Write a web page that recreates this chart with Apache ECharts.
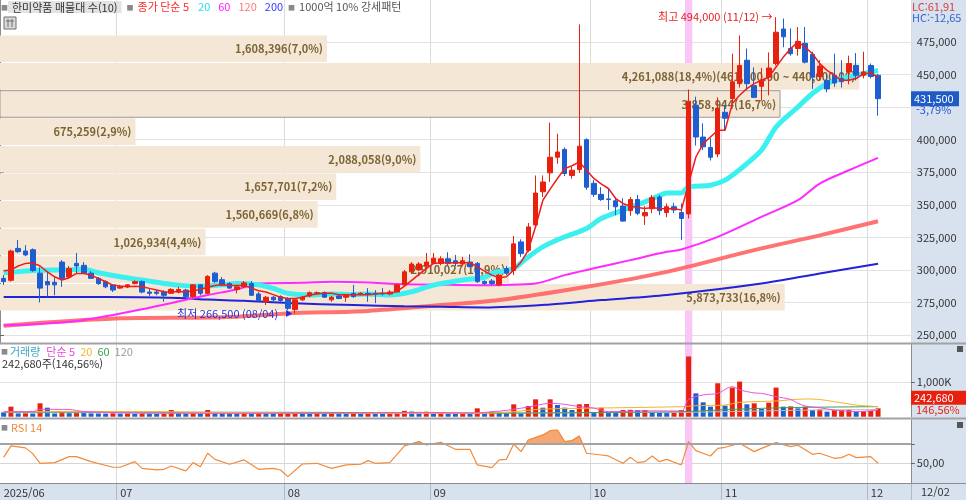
<!DOCTYPE html>
<html lang="ko">
<head>
<meta charset="utf-8">
<title>한미약품</title>
<script src="https://cdn.jsdelivr.net/npm/echarts@6.0.0/dist/echarts.min.js"></script>
<style>
html,body{margin:0;padding:0;background:#fff;overflow:hidden;}
#chart{width:966px;height:500px;}
</style>
</head>
<body>
<div id="chart"></div>
<script>
// ================= DATA =================
const dates = [
'06/09','06/10','06/11','06/12','06/13','06/16','06/17','06/18','06/19','06/20','06/23','06/24','06/25','06/26','06/27','06/30',
'07/01','07/02','07/03','07/04','07/07','07/08','07/09','07/10','07/11','07/14','07/15','07/16','07/17','07/18','07/21','07/22','07/23','07/24','07/25','07/28','07/29','07/30','07/31',
'08/01','08/04','08/05','08/06','08/07','08/08','08/11','08/12','08/13','08/14','08/18','08/19','08/20','08/21','08/22','08/25','08/26','08/27','08/28','08/29',
'09/01','09/02','09/03','09/04','09/05','09/08','09/09','09/10','09/11','09/12','09/15','09/16','09/17','09/18','09/19','09/22','09/23','09/24','09/25','09/26','09/29','09/30',
'10/01','10/02','10/10','10/13','10/14','10/15','10/16','10/17','10/20','10/21','10/22','10/23','10/24','10/27','10/28','10/29','10/30','10/31',
'11/03','11/04','11/05','11/06','11/07','11/10','11/11','11/12','11/13','11/14','11/17','11/18','11/19','11/20','11/21','11/24','11/25','11/26','11/27','11/28',
'12/01','12/02'];
const emptySlots = ['+1','+2','+3','+4'];
const monthStartIdx = [0,16,39,59,81,99,119];
const monthLabels = ['2025/06','07','08','09','10','11','12'];

// [open, close, low, high]
const ohlc = [
[293500,291000,288500,296000],[292000,314500,291000,315500],[316500,314000,313000,323000],[314500,311500,310500,319000],[315500,299500,298500,316500],
[297500,286000,275000,302000],[291000,288500,279500,298500],[290500,288500,280500,294500],[306000,293500,287000,307500],[294500,301000,293500,303000],
[305000,303000,297500,313000],[303500,297500,297000,306000],[297500,293500,293000,299000],[293500,289500,288500,294500],[291000,287000,286000,292000],
[288500,284500,283000,289000],[286000,287000,285500,288500],[287000,288500,286000,289000],[289500,291000,289000,292000],[291000,283000,282000,292000],
[283000,282000,280000,285500],[283000,282000,280500,284500],[283000,280500,275500,284500],[282000,285000,281500,286000],[283000,285000,282000,287000],
[284500,279500,278500,285500],[279500,288500,278500,289000],[288500,282000,280500,289000],[282000,295000,281500,296000],[297500,291000,290000,298500],
[292500,288500,287500,294500],[289500,286000,285500,290500],[285000,287000,282000,288500],[287000,290000,286000,291500],[289500,280500,280000,291500],
[281500,276500,275500,283000],[275500,279000,273000,280000],[279000,277000,276000,280000],[279500,276500,275500,280500],[278000,270500,269000,279000],
[269500,277000,266500,278500],[277000,279000,276000,280000],[280000,282500,279000,283500],[282000,282500,281500,283500],[282500,279000,278500,283500],
[277000,279000,275500,280000],[280000,278000,277500,280500],[279000,280500,275500,281500],[282000,279500,278500,288500],[281500,282000,280500,283000],
[282000,281500,275500,286000],[282000,281500,274500,284500],[282000,281500,280500,286000],[281500,283000,280500,284500],[283000,288500,283000,289000],
[288500,298500,287500,300000],[298500,304500,297500,306000],[300000,304500,299000,306000],[303000,306000,301500,313000],[305000,309000,304500,313000],
[305000,308500,303500,310500],[308500,305000,303500,313500],[307000,305000,303000,311500],[304500,307000,303000,310000],[306000,302500,302000,312000],
[305000,291000,290000,306000],[291000,289500,288500,292000],[291500,289500,288500,293000],[288500,296000,287500,297000],[301000,297500,296000,303000],
[299500,320000,296000,326000],[321500,312500,310000,323500],[315000,333000,313500,336000],[334500,359000,332500,372500],[360000,367500,356000,372500],
[374500,386500,367500,413000],[386500,390500,381500,404500],[392500,374000,372000,394000],[372500,376500,370000,379000],[377000,395000,374500,488500],
[400000,363500,361500,401000],[366500,358000,356000,369000],[358000,354000,353000,363500],[354500,354000,346000,362500],[353000,348500,342000,355500],
[349000,337500,337000,355000],[345500,354000,341500,356000],[354000,343500,342000,357500],[341500,344000,334500,349000],[347000,355500,343500,357500],
[356000,345500,342000,357500],[344000,348500,340500,351000],[348500,346000,343500,351500],[344000,339500,323000,351000],[343000,429500,339500,438500],
[426500,402000,395500,433000],[402000,394500,392000,412500],[394000,386500,384000,401000],[389000,424000,386500,432500],[421000,416500,407000,426500],
[431500,444500,428500,466000],[443000,457000,440000,480000],[461000,443000,438000,470000],[441500,432500,432000,455500],[441000,445500,430000,455000],
[448000,455000,434000,467000],[458500,482500,457000,494000],[485000,479000,471000,493000],[470000,466000,464500,485500],[470000,475500,464500,486500],
[474000,459500,458500,486500],[465500,448000,439000,467500],[448500,456500,445500,461000],[445500,439000,436500,450500],[449500,443500,440500,466000],
[447000,444500,440000,461000],[452000,458500,442500,464500],[457000,449500,445500,466500],[449500,452000,447000,467500],[457000,448500,447000,458500],
[449500,431500,418500,450500]];

const volume = [
126000,292000,95000,100000,92000,389000,262000,95000,140000,105000,
120000,110000,98000,95000,90000,100000,90000,95000,85000,95000,
88000,80000,85000,194000,100000,95000,105000,90000,194000,110000,
100000,95000,90000,96000,92000,100000,85000,80000,88000,92000,
98000,90000,85000,95000,88000,92000,85000,80000,130000,95000,
100000,90000,85000,92000,110000,170000,150000,140000,145000,100000,
130000,95000,90000,100000,90000,243000,97000,150000,140000,97000,
360000,97000,311000,505000,262000,505000,340000,262000,194000,360000,
370000,117000,262000,117000,110000,194000,200000,190000,195000,117000,
110000,105000,115000,194000,1750000,680000,418000,292000,972000,321000,
846000,1021000,360000,389000,224000,408000,846000,292000,300000,243000,
292000,194000,214000,146000,194000,196000,198000,150000,160000,165580,
242680];

// price moving averages
const ma5 = [
299300,300000,303000,305000,305400,303000,298500,294700,292200,294000,
297300,297300,296000,293500,290900,288300,287600,287000,287500,287000,
285800,284500,283200,283000,283500,283000,284000,285000,286600,288000,
288500,288000,288000,288000,286000,284000,283000,281000,279000,278000,
278000,279000,280700,281500,282000,282000,281000,281000,281000,281000,
281000,281500,282000,282000,283500,287500,292000,296500,301000,305000,
305500,305500,305500,305500,305500,302400,299000,296000,294000,294700,
299800,306000,315200,333100,353500,362000,370200,377800,380000,382900,
376500,370200,366000,362500,354800,351000,348900,348000,347200,347900,
347200,347000,347200,345900,366300,386700,397000,402100,407200,407200,
427700,434100,439200,443000,445600,448100,455800,463400,469900,475000,
471100,466000,458400,453200,449400,445600,445600,446900,450700,451200,
448000];
const ma20 = [[0,297800],[5,299800],[8,300000],[11,300400],[13,297800],[16,294700],[19,292200],[22,289600],[24,288300],[27,287600],[30,288500],[32,289600],[35,288500],[37,285800],[39,282000],[42,280700],[45,281500],[48,281000],[50,281500],[53,280700],[56,283200],[59,288300],[63,292200],[66,294300],[67,297300],[70,301200],[72,310000],[74,317700],[77,325400],[80,331800],[82,339500],[85,345900],[88,352200],[90,357000],[91,359100],[93,359100],[94,363700],[97,365000],[99,368900],[101,377000],[104,391900],[106,409700],[109,425100],[111,435400],[113,443000],[115,446900],[118,450700],[120,453200]];
const ma60 = [[0,257500],[5,258500],[11,261500],[20,271000],[28,280700],[32,285000],[35,289600],[41,290100],[45,290900],[50,290300],[54,289100],[59,288800],[65,288300],[73,289600],[77,296000],[81,301200],[86,307500],[91,313900],[93,315700],[98,325400],[104,340700],[109,353500],[112,366300],[116,376500],[120,386000]];
const ma120 = [[0,257100],[16,262800],[30,263600],[39,266600],[50,268500],[60,273000],[68,276800],[80,287000],[91,298500],[103,315200],[112,326500],[120,337400]];
const ma200 = [[0,279200],[14,279200],[24,278400],[28,277200],[33,276300],[39,274500],[48,273000],[55,272000],[60,271700],[66,271200],[75,273500],[82,276800],[91,280700],[104,289500],[112,297300],[120,304800]];

// volume moving averages (shares)
const vma5 = [[0,145000],[4,150000],[5,214000],[9,210000],[11,150000],[20,100000],[40,95000],[58,120000],[64,110000],[68,160000],[72,280000],[75,389000],[77,360000],[79,292000],[81,250000],[83,146000],[88,170000],[93,165000],[94,500000],[96,632000],[98,680000],[100,875000],[101,780000],[103,690000],[104,680000],[106,583000],[108,500000],[109,389000],[110,311000],[112,260000],[114,194000],[117,146000],[120,194000]];
const vma20 = [[0,150000],[21,148000],[26,130000],[35,115000],[44,100000],[60,97000],[66,100000],[70,150000],[74,220000],[79,243000],[85,262000],[93,292000],[95,321000],[99,340000],[101,418000],[106,457000],[110,515000],[112,500000],[114,437000],[117,340000],[120,292000]];
const vma60 = [[0,135000],[44,126000],[50,115000],[60,105000],[66,100000],[80,120000],[93,146000],[98,194000],[104,243000],[110,272000],[120,292000]];
const vma120 = [[0,118000],[66,108000],[93,128000],[100,150000],[110,190000],[120,210000]];

// RSI 14
const rsi = [[0,56.2],[1,68],[3,66],[4,60],[5,50],[7,50.7],[9,56.9],[10,56.9],[12,51.7],[15,45.9],[16,45.9],[18,51.7],[19,44.8],[21,43.1],[22,43.8],[23,47.2],[25,42.1],[26,50.7],[27,46.5],[28,60.4],[29,54.1],[31,49],[33,53.5],[35,43.8],[37,44.8],[38,43.1],[39,36.2],[41,49.3],[43,50],[45,44.8],[47,48.3],[49,49],[50,52.8],[51,50],[53,50.7],[55,68],[57,72.5],[58,69],[60,71.8],[62,64.5],[64,64.5],[65,48.3],[67,45.5],[68,53.5],[69,54.1],[70,70],[71,62.1],[72,74.2],[74,79.4],[75,83.8],[76,84.5],[77,72.5],[78,73.5],[79,78.3],[80,60.4],[82,58.6],[83,57.6],[85,50],[86,56.2],[87,50.7],[88,51.7],[89,57.6],[90,51.7],[91,54.1],[93,48.3],[94,72.5],[95,63.1],[97,57.6],[98,65.5],[99,66.6],[101,70.7],[103,62.1],[104,65.5],[106,71.4],[108,67.3],[109,68.7],[111,59.3],[112,60.4],[114,55.2],[115,55.9],[116,59.3],[117,55.9],[119,56.9],[120,50]];
const rsiOverbought = 70;

// volume profile (매물대 10 bins, bottom -> top)
const profileEdges = [268800,290000,311200,332400,353600,374800,396000,417200,438400,459600,480800];
const profileVolume = [5873733,2910027,1026934,1560669,1657701,2088058,675259,3858944,4261088,1608396];
const profilePct = [16.8,10.9,4.4,6.8,7.2,9.0,2.9,16.7,18.4,7.0];
const maxBinRangeText = '(461,800.00 ~ 440,600.00)';

const priceGridTicks = [250000,275000,300000,325000,350000,375000,400000,425000,450000,475000];
const priceLabelTicks = [250000,275000,300000,325000,350000,375000,400000,450000,475000];
const highlightIndex = 94;
const lcText = 'LC:61,91', hcText = 'HC:-12,65';

// ================= CHART =================
const FONT = "'Noto Sans CJK KR','Noto Sans',sans-serif";
const RED = '#E8210F', BLUE = '#1F5ECF';
const AXBG = '#d8e2ee';
const GL = -1.65, GW = 912.5;
const categories = dates.concat(emptySlots);
const fmt = n => String(n).replace(/\B(?=(\d{3})+(?!\d))/g, ',');
const dec = (v, d) => v.toFixed(d).replace('.', ',');
const isMonthStart = i => monthStartIdx.indexOf(i) >= 0;

const lastIdx = ohlc.length - 1;
const lastClose = ohlc[lastIdx][1];
const prevClose = ohlc[lastIdx - 1][1];
const lastVol = volume[lastIdx];
const prevVol = volume[lastIdx - 1];
let hiIdx = 0, loIdx = 0;
ohlc.forEach((d, i) => { if (d[3] > ohlc[hiIdx][3]) hiIdx = i; if (d[2] < ohlc[loIdx][2]) loIdx = i; });

function catAxis(gi) {
  const bottom = gi === 2;
  return {
    type: 'category', gridIndex: gi, data: categories, boundaryGap: true,
    axisLine: { show: bottom, lineStyle: { color: '#8c8c8c' } },
    axisTick: { show: bottom, interval: (i) => i > 0 && isMonthStart(i), length: 17, lineStyle: { color: '#aeb8c6' } },
    axisLabel: {
      show: bottom, interval: (i) => isMonthStart(i),
      formatter: (v, i) => { const k = monthStartIdx.indexOf(i); return k >= 0 ? monthLabels[k] : ''; },
      align: 'left', margin: 4, fontSize: 11, color: '#333', fontFamily: FONT
    },
    splitLine: { show: true, interval: (i) => i > 0 && isMonthStart(i), lineStyle: { color: '#dcdcdc', width: 1 } }
  };
}

function hlRender(params, api) {
  const cs = params.coordSys;
  const x = api.coord([api.value(0), api.value(1)])[0];
  const w = api.size([1, 0])[0];
  return { type: 'rect', shape: { x: x - w / 2, y: cs.y, width: w, height: cs.height }, style: { fill: '#F9C6F6' } };
}

const currentBin = profileEdges.findIndex((e, k) => k < profileEdges.length - 1 && lastClose >= e && lastClose < profileEdges[k + 1]);
const maxBin = profilePct.indexOf(Math.max.apply(null, profilePct));
const profileData = profileVolume.map((v, k) => [profileEdges[k], profileEdges[k + 1], profilePct[k], v]);

function bandRender(params, api) {
  const k = params.dataIndex;
  const lo = api.value(0), hi = api.value(1), pct = api.value(2);
  const a = api.coord([0, hi]), b = api.coord([pct, lo]);
  const label = fmt(profileVolume[k]) + '(' + dec(profilePct[k], 1) + '%)' + (k === maxBin ? maxBinRangeText : '');
  const cur = k === currentBin;
  return {
    type: 'group',
    children: [
      { type: 'rect', shape: { x: a[0], y: a[1] + 1, width: b[0] - a[0], height: b[1] - a[1] - 1 },
        style: { fill: '#F5E7D6', stroke: cur ? '#9a9a9a' : null, lineWidth: cur ? 1 : 0 } },
      { type: 'text', x: b[0] - 4, y: (a[1] + b[1]) / 2 + 1,
        style: { text: label, align: 'right', verticalAlign: 'middle', fill: '#7C6435', font: 'bold 11px ' + FONT } }
    ]
  };
}

// fill of the RSI line above the overbought level
function hotRender(params, api) {
  const i = params.dataIndex;
  if (i >= rsi.length - 1) return null;
  const a = rsi[i], b = rsi[i + 1], L = rsiOverbought;
  if (a[1] <= L && b[1] <= L) return null;
  const pa = api.coord(a), pb = api.coord(b);
  const base = api.coord([a[0], L])[1];
  let pts;
  if (a[1] > L && b[1] > L) pts = [[pa[0], base], pa, pb, [pb[0], base]];
  else if (a[1] > L) { const t = (a[1] - L) / (a[1] - b[1]); pts = [[pa[0], base], pa, [pa[0] + t * (pb[0] - pa[0]), base]]; }
  else { const t = (L - a[1]) / (b[1] - a[1]); pts = [[pa[0] + t * (pb[0] - pa[0]), base], pb, [pb[0], base]]; }
  return { type: 'polygon', shape: { points: pts }, style: { fill: '#F5A673', stroke: '#F5A673', lineWidth: 0.6 } };
}

function maLine(data, color, width, z, smooth, opacity) {
  return { type: 'line', xAxisIndex: 0, yAxisIndex: 0, data: data, symbol: 'none', smooth: smooth ? 0.3 : false,
    lineStyle: { color: color, width: width, opacity: opacity == null ? 1 : opacity }, z: z, silent: true };
}
function volLine(data, color) {
  return { type: 'line', xAxisIndex: 1, yAxisIndex: 1, data: data, symbol: 'none', smooth: 0.3,
    lineStyle: { color: color, width: 1 }, z: 3, silent: true };
}

const option = {
  animation: false,
  backgroundColor: '#ffffff',
  textStyle: { fontFamily: FONT },
  grid: [
    { left: GL, top: 0, width: GW, height: 343 },
    { left: GL, top: 344, width: GW, height: 72.7 },
    { left: GL, top: 420, width: GW, height: 63 }
  ],
  xAxis: [catAxis(0), catAxis(1), catAxis(2), { type: 'value', gridIndex: 0, min: 0, max: 19.5, show: false }],
  yAxis: [
    { type: 'value', gridIndex: 0, position: 'right', min: 243860, max: 507250,
      axisLine: { show: true, lineStyle: { color: '#8c8c8c' } },
      axisTick: { show: true, customValues: priceGridTicks, length: 4, lineStyle: { color: '#666' } },
      axisLabel: { customValues: priceLabelTicks, formatter: v => fmt(v), margin: 6, fontSize: 11, color: '#333', fontFamily: FONT },
      splitLine: { show: true, lineStyle: { color: '#e2e2e2' } } },
    { type: 'value', gridIndex: 1, position: 'right', min: 0, max: 2113000,
      axisLine: { show: true, lineStyle: { color: '#8c8c8c' } },
      axisTick: { show: true, customValues: [1000000], length: 4, lineStyle: { color: '#666' } },
      axisLabel: { customValues: [1000000], formatter: v => fmt(v / 1000) + 'K', margin: 6, fontSize: 11, color: '#333', fontFamily: FONT },
      splitLine: { show: true, lineStyle: { color: '#e2e2e2' } } },
    { type: 'value', gridIndex: 2, position: 'right', min: 29.59, max: 94.87,
      axisLine: { show: true, lineStyle: { color: '#8c8c8c' } },
      axisTick: { show: true, customValues: [50, 70], length: 4, lineStyle: { color: '#666' } },
      axisLabel: { customValues: [50], formatter: v => dec(v, 2), margin: 6, fontSize: 11, color: '#333', fontFamily: FONT },
      splitLine: { show: true, lineStyle: { color: '#d6d6d6' } } }
  ],
  series: [
    { type: 'custom', xAxisIndex: 0, yAxisIndex: 0, z: 1, silent: true, renderItem: hlRender,
      data: [[highlightIndex, ohlc[highlightIndex][1]]], encode: { x: 0, y: 1 } },
    { type: 'custom', xAxisIndex: 3, yAxisIndex: 0, z: 2, silent: true, renderItem: bandRender,
      data: profileData, encode: { x: 2, y: [0, 1] } },
    maLine(ma120, '#FF6464', 4, 3, true, 0.9),
    maLine(ma200, '#2222D8', 2, 3, true),
    maLine(ma60, '#FF2AFF', 2, 3, true),
    maLine(ma20, '#3CF0F0', 5, 3, true),
    { type: 'candlestick', xAxisIndex: 0, yAxisIndex: 0, z: 4, data: ohlc, barWidth: 5,
      itemStyle: { color: RED, color0: BLUE, borderColor: RED, borderColor0: BLUE, borderWidth: 1 },
      markPoint: {
        silent: true, animation: false,
        data: [
          { coord: [hiIdx, ohlc[hiIdx][3]], symbol: 'circle', symbolSize: 1, itemStyle: { color: 'rgba(0,0,0,0)' },
            label: { show: true, position: 'left', distance: 3, color: '#E82020', fontSize: 11, fontFamily: FONT,
              formatter: '최고 ' + fmt(ohlc[hiIdx][3]) + ' (' + dates[hiIdx] + ') →' } },
          { coord: [loIdx, ohlc[loIdx][2]], symbol: 'triangle', symbolRotate: -90, symbolSize: [7, 6], symbolOffset: [-6, 0],
            itemStyle: { color: '#2030D0' },
            label: { show: true, position: 'left', distance: 8, color: '#2030D0', fontSize: 11, fontFamily: FONT,
              formatter: '최저 ' + fmt(ohlc[loIdx][2]) + ' (' + dates[loIdx] + ')' } }
        ]
      } },
    maLine(ma5, '#F01C1C', 1.5, 5, false),
    { type: 'custom', xAxisIndex: 1, yAxisIndex: 1, z: 1, silent: true, renderItem: hlRender,
      data: [[highlightIndex, volume[highlightIndex]]], encode: { x: 0, y: 1 } },
    { type: 'bar', xAxisIndex: 1, yAxisIndex: 1, data: volume, barWidth: 5, z: 2, silent: true,
      itemStyle: { color: p => (p.dataIndex > 0 && volume[p.dataIndex] > volume[p.dataIndex - 1]) ? RED : BLUE } },
    volLine(vma120, '#bdbdbd'),
    volLine(vma60, '#3BA04E'),
    volLine(vma20, '#F2B52E'),
    volLine(vma5, '#EE4FE0'),
    { type: 'custom', xAxisIndex: 2, yAxisIndex: 2, z: 2, silent: true, renderItem: hotRender,
      data: rsi, encode: { x: 0, y: 1 } },
    { type: 'line', xAxisIndex: 2, yAxisIndex: 2, data: rsi, symbol: 'none', z: 3, silent: true,
      lineStyle: { color: '#F28A3A', width: 1.2 }, itemStyle: { color: '#F28A3A' },
      markLine: { silent: true, symbol: 'none', label: { show: false }, animation: false,
        lineStyle: { color: '#a3a3a3', width: 2, type: 'solid' }, data: [{ yAxis: rsiOverbought }] } },
    { type: 'custom', xAxisIndex: 2, yAxisIndex: 2, z: 1, silent: true, renderItem: hlRender,
      data: [[highlightIndex, 50]], encode: { x: 0, y: 1 } }
  ]
};

const chart = echarts.init(document.getElementById('chart'), null, { renderer: 'canvas' });
chart.setOption(option);

const yClose = chart.convertToPixel({ yAxisIndex: 0 }, lastClose);
const yVol = chart.convertToPixel({ yAxisIndex: 1 }, lastVol);
const chg = (lastClose - prevClose) / prevClose * 100;
const volRatio = lastVol / prevVol * 100;
const F11 = '11px ' + FONT;
const rs = (fill, pl) => ({ fill: fill, fontSize: 11, fontFamily: FONT, padding: [0, 0, 0, pl || 0] });

const els = [
  { type: 'rect', z: -10, silent: true, shape: { x: 911, y: 0, width: 55, height: 484 }, style: { fill: AXBG } },
  { type: 'rect', z: -10, silent: true, shape: { x: 0, y: 483.5, width: 966, height: 17 }, style: { fill: AXBG } },
  { type: 'line', z: 50, silent: true, shape: { x1: 0, y1: 343.5, x2: 966, y2: 343.5 }, style: { stroke: '#a2a2a2', lineWidth: 2 } },
  { type: 'line', z: 50, silent: true, shape: { x1: 0, y1: 418.5, x2: 966, y2: 418.5 }, style: { stroke: '#a2a2a2', lineWidth: 2 } },
  { type: 'line', z: 50, silent: true, shape: { x1: 0, y1: 483.5, x2: 966, y2: 483.5 }, style: { stroke: '#8c8c8c', lineWidth: 1 } },
  { type: 'text', z: 60, silent: true, x: 1, y: 1, style: {
      text: '{sq|■}{box|한미약품 매물대 수(10)}{sq2|■}{r|종가 단순 5}{c|20}{m|60}{s|120}{b|200}{sq2|■}{g|1000억 10% 강세패턴}',
      font: F11, fill: '#333',
      rich: {
        sq: { fill: '#8a8a8a', fontSize: 7, fontFamily: FONT },
        sq2: { fill: '#8a8a8a', fontSize: 7, fontFamily: FONT, padding: [0, 4, 0, 5] },
        box: { fill: '#333', backgroundColor: '#e3e3e3', padding: [1, 4, 0, 4], fontSize: 11, fontFamily: FONT },
        r: rs('#FF2A2A', 0),
        c: rs('#1FE0EE', 9),
        m: rs('#FF22FF', 8),
        s: rs('#FF7878', 8),
        b: rs('#3434FF', 8),
        g: rs('#555', 0)
      } } },
  { type: 'group', z: 60, silent: true, x: 4, y: 17, children: [
      { type: 'rect', shape: { x: 0, y: 0, width: 12, height: 12 }, style: { fill: '#d9d9d9', stroke: '#6e6e6e', lineWidth: 1 } },
      { type: 'line', shape: { x1: 2, y1: 4, x2: 10, y2: 4 }, style: { stroke: '#6e6e6e' } },
      { type: 'line', shape: { x1: 4, y1: 2, x2: 4, y2: 10 }, style: { stroke: '#6e6e6e' } },
      { type: 'line', shape: { x1: 8, y1: 2, x2: 8, y2: 10 }, style: { stroke: '#6e6e6e' } }
  ] },
  { type: 'text', z: 60, silent: true, x: 912, y: 1, style: { text: lcText, font: F11, fill: '#E03A3A' } },
  { type: 'text', z: 60, silent: true, x: 912, y: 12, style: { text: hcText, font: F11, fill: '#3565D0' } },
  { type: 'rect', z: 60, silent: true, shape: { x: 911, y: yClose - 7.5, width: 48, height: 15 }, style: { fill: '#1F5BC6' } },
  { type: 'text', z: 61, silent: true, x: 914, y: yClose, style: { text: fmt(lastClose), font: F11, fill: '#fff', verticalAlign: 'middle' } },
  { type: 'text', z: 61, silent: true, x: 916, y: yClose + 11, style: { text: dec(chg, 2) + '%', font: F11, fill: '#2A55D0', verticalAlign: 'middle' } },
  { type: 'text', z: 60, silent: true, x: 1, y: 346, style: {
      text: '{sq|■}{v|거래량}{m|단순 5}{o|20}{g|60}{k|120}', font: F11,
      rich: {
        sq: { fill: '#8a8a8a', fontSize: 7, fontFamily: FONT, padding: [0, 2, 0, 0] },
        v: rs('#3AA3C9', 0),
        m: rs('#EE44E0', 6),
        o: rs('#F2B52E', 5),
        g: rs('#3BA04E', 5),
        k: rs('#9a9a9a', 5)
      } } },
  { type: 'text', z: 60, silent: true, x: 2, y: 358, style: { text: fmt(lastVol) + '주(' + dec(volRatio, 2) + '%)', font: F11, fill: '#333' } },
  { type: 'rect', z: 60, silent: true, shape: { x: 911, y: yVol - 17.5, width: 55, height: 14 }, style: { fill: '#E8210F' } },
  { type: 'text', z: 61, silent: true, x: 914, y: yVol - 10.5, style: { text: fmt(lastVol), font: F11, fill: '#fff', verticalAlign: 'middle' } },
  { type: 'text', z: 61, silent: true, x: 916, y: yVol + 1.5, style: { text: dec(volRatio, 2) + '%', font: F11, fill: '#E8210F', verticalAlign: 'middle' } },
  { type: 'text', z: 60, silent: true, x: 1, y: 422, style: {
      text: '{sq|■}{o|RSI 14}', font: F11,
      rich: { sq: { fill: '#8a8a8a', fontSize: 7, fontFamily: FONT, padding: [0, 3, 0, 0] }, o: rs('#F28A3A', 0) } } },
  { type: 'rect', z: 60, silent: true, shape: { x: 957, y: 346, width: 6, height: 6 }, style: { fill: '#555' } },
  { type: 'rect', z: 60, silent: true, shape: { x: 957, y: 422, width: 6, height: 6 }, style: { fill: '#555' } },
  { type: 'text', z: 60, silent: true, x: 921, y: 486, style: { text: dates[lastIdx], font: F11, fill: '#333' } }
];
chart.setOption({ graphic: { elements: els } });
</script>
</body>
</html>
